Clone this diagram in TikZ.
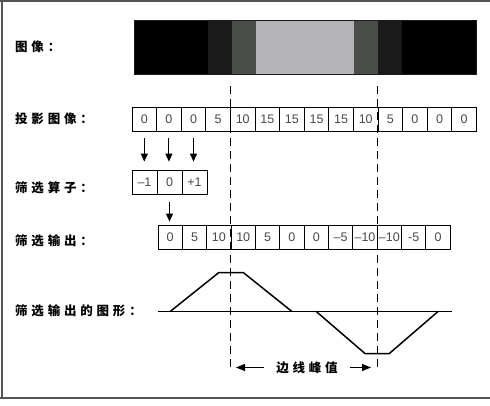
\documentclass[tikz,border=0pt]{standalone}
\usepackage{fontspec}
\setmainfont{Liberation Sans}
\newfontfamily\cjk{Noto Sans CJK SC}
\usetikzlibrary{arrows.meta}
\definecolor{numgray}{HTML}{484848}
\definecolor{band1}{HTML}{1A1A1A}
\definecolor{band2}{HTML}{4B4D4B}
\definecolor{band3}{HTML}{B4B3B5}
\definecolor{framegray}{HTML}{555555}
\newcommand\cc[1]{\makebox[16.3pt][l]{#1}}
\tikzset{
  cellbox/.style={draw=black, line width=0.8pt, inner sep=0pt, minimum height=24pt,
     font=\fontsize{12.5}{12.5}\selectfont, text=numgray},
  pcell/.style={cellbox, minimum width=24.6pt},
  ocell/.style={cellbox, minimum width=24.35pt},
  fcell/.style={cellbox, minimum width=25pt},
  lbl/.style={anchor=west, inner sep=0pt, font=\cjk\bfseries\fontsize{12.5}{12.5}\selectfont},
  downarr/.style={line width=1pt, -{Triangle[width=7pt,length=8pt]}},
  guide/.style={line width=1.4pt, dash pattern=on 8pt off 5pt},
  curve/.style={line width=1.5pt, line join=miter},
  axisline/.style={line width=1pt},
  framestyle/.style={draw=framegray, line width=1.5pt},
}
\begin{document}
\begin{tikzpicture}[x=1pt, y=-1pt]
\useasboundingbox (0,0) rectangle (490,405);
% frame
\draw[framestyle] (0,1) -- (490,1);
\draw[framestyle] (2,0) -- (2,398);
\draw[framestyle] (0,398) -- (490,398);

% labels
\node[lbl] (limg) at (15,47) {\cc{图}\cc{像}\cc{：}};
\node[lbl] (lproj) at (15,118.5) {\cc{投}\cc{影}\cc{图}\cc{像}\cc{：}};
\node[lbl] (lfilt) at (15,188) {\cc{筛}\cc{选}\cc{算}\cc{子}\cc{：}};
\node[lbl] (lout) at (15,241) {\cc{筛}\cc{选}\cc{输}\cc{出}\cc{：}};
\node[lbl] (lgraph) at (15,311) {\cc{筛}\cc{选}\cc{输}\cc{出}\cc{的}\cc{图}\cc{形}\cc{：}};

% image bar
\fill[black] (134,20) rectangle (208,74);
\fill[band1] (208,20) rectangle (232,74);
\fill[band2] (232,20) rectangle (256,74);
\fill[band3] (256,20) rectangle (354,74);
\fill[band2] (354,20) rectangle (378,74);
\fill[band1] (378,20) rectangle (402,74);
\fill[black] (402,20) rectangle (476,74);
\draw[band1, line width=0.6pt] (134,20) rectangle (476,74);

% projection row
\foreach \v [count=\i from 0] in {0,0,0,5,10,15,15,15,15,10,5,0,0,0}
  \node[pcell] (p\i) at ({132+24.6*\i+12.3},119) {\v};

% filter operator
\foreach \v [count=\i from 0] in {\textendash1,0,+1}
  \node[fcell] (f\i) at ({132+25*\i+12.5},182) {\v};

% filter output row
\foreach \v [count=\i from 1] in {0,5,10,10,5,0,0,\textendash5,\textendash10,\textendash10,-5,0}
  \node[ocell] (o\i) at ({158+24.35*(\i-1)+12.175},237) {\v};

% arrows
\foreach \i in {0,1,2}
  \draw[downarr, shorten <=7pt, shorten >=8pt] (p\i.south) -- (f\i.north -| p\i.south);
\draw[downarr, shorten <=8pt, shorten >=3pt] (f1.south) -- (f1.south |- o1.north);

% graph axis
\coordinate (ax0) at (158,311.5);
\coordinate (ax1) at (452,311.5);
\draw[axisline] (ax0) -- (ax1);

% graph curve at cell centres
\draw[curve] (o1.center |- ax0)
  -- ([yshift=39pt]o3.center |- ax0)
  -- ([yshift=39pt]o4.center |- ax0)
  -- (o6.center |- ax0);
\draw[curve] (o7.center |- ax0)
  -- ([yshift=-42pt]o9.center |- ax0)
  -- ([yshift=-42pt]o10.center |- ax0)
  -- (o12.center |- ax0);

% dashed guides
\coordinate (dl0) at (230.6,86);
\coordinate (dl1) at (230.6,368);
\coordinate (dr0) at (377.2,86);
\coordinate (dr1) at (377.2,368);
\draw[guide] (dl0) -- (dl1);
\draw[guide] (dr0) -- (dr1);

% edge peak annotation
\node[inner sep=0pt, font=\cjk\bfseries\fontsize{12.5}{12.5}\selectfont] (peak) at (307,367.5) {\cc{边}\cc{线}\cc{峰}\makebox[12.5pt][l]{值}};
\coordinate (la) at (236,367.5);
\coordinate (ra) at (371,367.5);
\draw[line width=1.2pt, -{Triangle[width=7pt,length=9pt]}] ([xshift=-12pt]peak.west) -- (la);
\draw[line width=1.2pt, -{Triangle[width=7pt,length=9pt]}] ([xshift=12pt]peak.east) -- (ra);
\end{tikzpicture}
\end{document}
